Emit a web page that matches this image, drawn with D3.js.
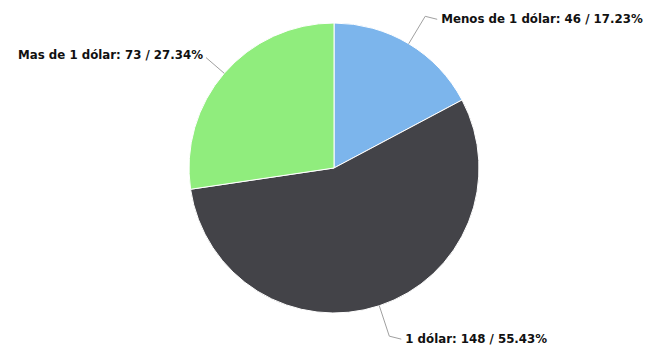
<!DOCTYPE html>
<html>
<head>
<meta charset="utf-8">
<script src="https://cdn.jsdelivr.net/npm/d3@7"></script>
<style>
  html, body { margin: 0; padding: 0; background: #fff; }
  svg { display: block; }
</style>
</head>
<body>
<svg id="chart" width="646" height="352"></svg>
<script>
// Data
const categories = ["Menos de 1 dólar", "1 dólar", "Mas de 1 dólar"];
const values = [46, 148, 73];
const percents = ["17.23%", "55.43%", "27.34%"];
const colors = ["#7cb5ec", "#434348", "#90ed7d"];

const W = 646, H = 352;
const cx = 334, cy = 168, r = 145;

const svg = d3.select("#chart");
const g = svg.append("g").attr("transform", `translate(${cx},${cy})`);

const pie = d3.pie().sort(null).value(d => d.value).startAngle(0).endAngle(2 * Math.PI);
const data = categories.map((c, i) => ({ name: c, value: values[i], pct: percents[i], color: colors[i] }));
const arcs = pie(data);

const arc = d3.arc().innerRadius(0).outerRadius(r);

g.selectAll("path.slice")
  .data(arcs)
  .enter().append("path")
  .attr("class", "slice")
  .attr("d", arc)
  .attr("fill", d => d.data.color)
  .attr("stroke", "#ffffff")
  .attr("stroke-width", 1)
  .attr("stroke-linejoin", "round");

function polar(a, rad) {
  return [Math.sin(a) * rad, -Math.cos(a) * rad];
}

const labelRadius = r + 32;
arcs.forEach(d => {
  const mid = (d.startAngle + d.endAngle) / 2;
  const right = Math.sin(mid) >= 0;
  const edge = polar(mid, r);
  const anchor = polar(mid, labelRadius);
  let pts;
  let tx, anchorText;
  if (right) {
    tx = anchor[0] + 16;
    anchorText = "start";
    pts = [edge, anchor, [tx - 4, anchor[1] + 3]];
  } else {
    tx = anchor[0] + 3;
    anchorText = "end";
    pts = [edge, polar(mid, r + 24)];
  }
  g.append("path")
    .attr("d", d3.line()(pts))
    .attr("fill", "none")
    .attr("stroke", "#a0a0a0")
    .attr("stroke-width", 1);
  g.append("text")
    .attr("x", tx)
    .attr("y", anchor[1] + 3)
    .attr("dominant-baseline", "middle")
    .attr("text-anchor", anchorText)
    .attr("font-family", "'DejaVu Sans', Verdana, sans-serif")
    .attr("font-weight", "bold")
    .attr("font-size", 11.8)
    .attr("fill", "#111")
    .text(`${d.data.name}: ${d.data.value} / ${d.data.pct}`);
});
</script>
</body>
</html>
